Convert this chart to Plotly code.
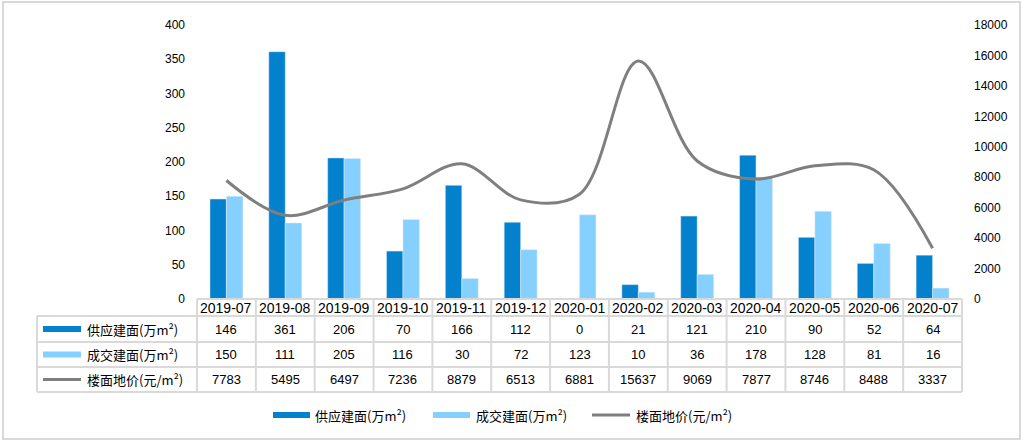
import plotly.graph_objects as go

categories = ["2019-07", "2019-08", "2019-09", "2019-10", "2019-11", "2019-12", "2020-01",
              "2020-02", "2020-03", "2020-04", "2020-05", "2020-06", "2020-07"]
supply = [146, 361, 206, 70, 166, 112, 0, 21, 121, 210, 90, 52, 64]
deal = [150, 111, 205, 116, 30, 72, 123, 10, 36, 178, 128, 81, 16]
price = [7783, 5495, 6497, 7236, 8879, 6513, 6881, 15637, 9069, 7877, 8746, 8488, 3337]
series_names = ["供应建面(万m²)", "成交建面(万m²)", "楼面地价(元/m²)"]

C_DARK = "#0481CD"
C_LIGHT = "#86D0FF"
C_GREY = "#7F7F7F"
C_GRID = "#D9D9D9"

W_PX, H_PX = 1024, 442
L, R, T, B = 197, 62, 25, 143
PW = W_PX - L - R
PH = H_PX - T - B

def px(x):
    return (x - L) / PW

def py(y):
    return (T + PH - y) / PH

fig = go.Figure()
fig.add_trace(go.Bar(x=categories, y=supply, name=series_names[0], marker_color=C_DARK))
fig.add_trace(go.Bar(x=categories, y=deal, name=series_names[1], marker_color=C_LIGHT))
fig.add_trace(go.Scatter(x=categories, y=price, name=series_names[2], yaxis="y2",
                         mode="lines", line=dict(color=C_GREY, width=3, shape="spline", smoothing=1)))

shapes = []
annotations = []
n = len(categories)
colw = PW / n
x0_head = 37
y_axis = T + PH          # 299
rows_y = [316, 342, 367, 392]
line_style = dict(color=C_GRID, width=2)

# horizontal lines
shapes.append(dict(type="line", xref="paper", yref="paper", x0=px(L), x1=px(L + PW),
                   y0=py(y_axis), y1=py(y_axis), line=line_style))
for yy in rows_y:
    shapes.append(dict(type="line", xref="paper", yref="paper", x0=px(x0_head), x1=px(L + PW),
                       y0=py(yy), y1=py(yy), line=line_style))
# vertical lines
shapes.append(dict(type="line", xref="paper", yref="paper", x0=px(x0_head), x1=px(x0_head),
                   y0=py(rows_y[0]), y1=py(rows_y[-1]), line=line_style))
for i in range(n + 1):
    xx = L + i * colw
    shapes.append(dict(type="line", xref="paper", yref="paper", x0=px(xx), x1=px(xx),
                       y0=py(y_axis), y1=py(rows_y[-1]), line=line_style))
# outer border
shapes.append(dict(type="rect", xref="paper", yref="paper", x0=px(3), x1=px(1020),
                   y0=py(2), y1=py(439), line=line_style, fillcolor="rgba(0,0,0,0)", layer="below"))

num_font = dict(family="Liberation Sans, Arial", size=13, color="#000000")
cjk_font = dict(family="Noto Sans CJK SC", size=13, color="#000000")

# category labels
for i, c in enumerate(categories):
    cx = L + (i + 0.5) * colw
    annotations.append(dict(xref="paper", yref="paper", x=px(cx), y=py((y_axis + rows_y[0]) / 2),
                            text=c, showarrow=False, font=dict(family="Liberation Sans, Arial", size=14, color="#000"),
                            xanchor="center", yanchor="middle"))

row_values = [supply, deal, price]
row_colors = [C_DARK, C_LIGHT, C_GREY]
row_thick = [6, 6, 3]
for r in range(3):
    cy = (rows_y[r] + rows_y[r + 1]) / 2
    for i in range(n):
        cx = L + (i + 0.5) * colw
        annotations.append(dict(xref="paper", yref="paper", x=px(cx), y=py(cy),
                                text=str(row_values[r][i]), showarrow=False, font=num_font,
                                xanchor="center", yanchor="middle"))
    shapes.append(dict(type="line", xref="paper", yref="paper", x0=px(43), x1=px(81),
                       y0=py(cy), y1=py(cy), line=dict(color=row_colors[r], width=row_thick[r])))
    annotations.append(dict(xref="paper", yref="paper", x=px(85), y=py(cy),
                            text=series_names[r], showarrow=False, font=cjk_font,
                            xanchor="left", yanchor="middle"))

# bottom legend
leg_y = 415
leg_items = [(273, 310, 313), (433, 470, 474), (592, 630, 634)]
for r, (a, b, t) in enumerate(leg_items):
    shapes.append(dict(type="line", xref="paper", yref="paper", x0=px(a), x1=px(b),
                       y0=py(leg_y), y1=py(leg_y), line=dict(color=row_colors[r], width=row_thick[r])))
    annotations.append(dict(xref="paper", yref="paper", x=px(t), y=py(leg_y),
                            text=series_names[r], showarrow=False, font=cjk_font,
                            xanchor="left", yanchor="middle"))

fig.update_layout(
    width=W_PX, height=H_PX, autosize=False,
    margin=dict(l=L, r=R, t=T, b=B, pad=0),
    paper_bgcolor="white", plot_bgcolor="white",
    barmode="group", bargap=0.44, bargroupgap=0,
    showlegend=False,
    xaxis=dict(type="category", range=[-0.5, n - 0.5], showticklabels=False, showgrid=False,
               zeroline=False, showline=False, ticks=""),
    yaxis=dict(range=[0, 400], dtick=50, showgrid=False, zeroline=False, showline=False, ticks="",
               tickfont=dict(family="Liberation Sans, Arial", size=12, color="#000"),
               ticklabelstandoff=11),
    yaxis2=dict(range=[0, 18000], dtick=2000, tickformat="d", overlaying="y", side="right", showgrid=False,
                zeroline=False, showline=False, ticks="",
                tickfont=dict(family="Liberation Sans, Arial", size=12, color="#000"),
                ticklabelstandoff=11),
    shapes=shapes, annotations=annotations,
)

fig.write_html("out.html", config={"displayModeBar": False},
               post_script="document.body.style.margin='0';document.body.style.overflow='hidden';")
